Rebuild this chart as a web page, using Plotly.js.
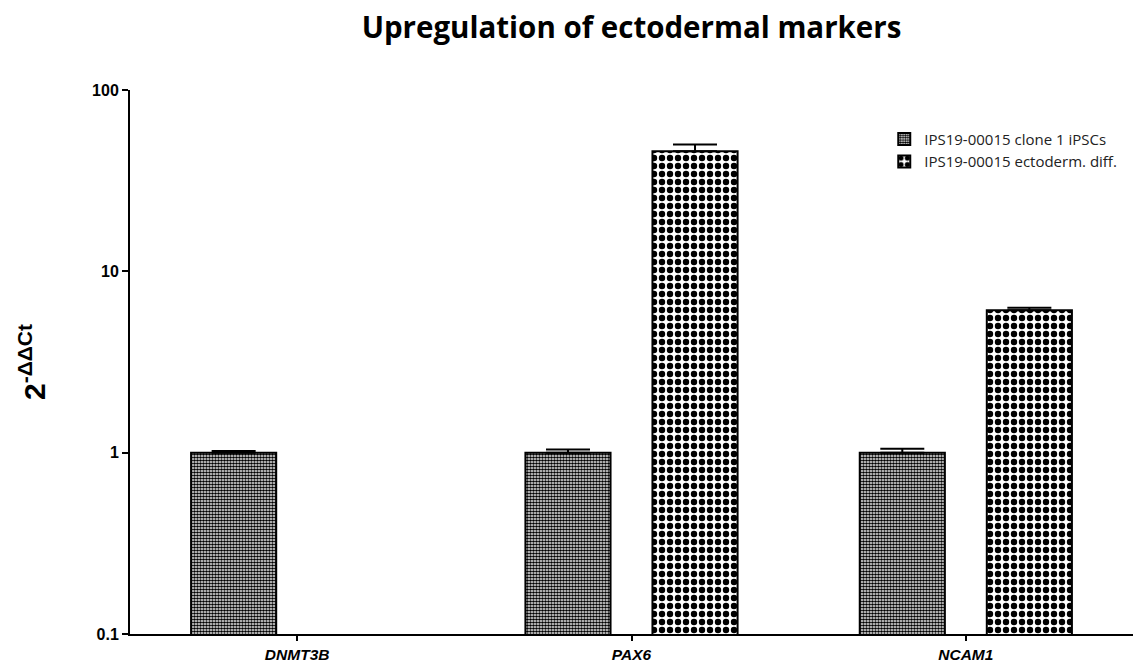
<!DOCTYPE html>
<html>
<head>
<meta charset="utf-8">
<script src="https://cdn.plot.ly/plotly-3.0.1.min.js"></script>
<style>html,body{margin:0;padding:0;background:#fff;}#chart{width:1143px;height:662px;}</style>
</head>
<body>
<div id="chart"></div>
<script>
const categories = ["DNMT3B", "PAX6", "NCAM1"];
const seriesNames = ["IPS19-00015 clone 1 iPSCs", "IPS19-00015 ectoderm. diff."];
const cloneValues = [1.0, 1.0, 1.0];
const cloneErrors = [0.02, 0.04, 0.05];
const ectoValues = [null, 46, 6.1];
const ectoErrors = [0, 4, 0.2];
const yTickVals = [0.1, 1, 10, 100];
const yTickText = ["0.1", "1", "10", "100"];

const catLabels = categories.map(c => "<b><i>" + c + "</i></b>");

const traces = [
  {
    type: "bar", name: seriesNames[0], x: catLabels, y: cloneValues,
    marker: {color: "#ffffff", line: {color: "#000", width: 2},
      pattern: {shape: ".", fgcolor: "#000", bgcolor: "#fff", size: 3, solidity: 0.65}},
    error_y: {type: "data", symmetric: false, array: cloneErrors, arrayminus: [0,0,0],
      color: "#000", thickness: 2, width: 22}
  },
  {
    type: "bar", name: seriesNames[1], x: catLabels, y: ectoValues,
    marker: {color: "#ffffff", line: {color: "#000", width: 2},
      pattern: {shape: ".", fgcolor: "#000", bgcolor: "#fff", size: 8, solidity: 0.5}},
    error_y: {type: "data", symmetric: false, array: ectoErrors, arrayminus: [0,0,0],
      color: "#000", thickness: 2, width: 22}
  }
];

const layout = {
  width: 1143, height: 662,
  margin: {l: 130, r: 10, t: 90, b: 28},
  paper_bgcolor: "#fff", plot_bgcolor: "#fff",
  title: {text: "<b>Upregulation of ectodermal markers</b>", x: 0.5, xref: "paper", y: 0.958, yanchor: "middle",
    font: {family: "'Open Sans', sans-serif", size: 29.5, color: "#000"}},
  barmode: "group", bargap: 0.24, bargroupgap: 0.33,
  showlegend: true,
  legend: {x: 0.752, y: 0.94, xanchor: "left", yanchor: "top", bgcolor: "rgba(0,0,0,0)",
    font: {family: "'Open Sans', sans-serif", size: 15, color: "#222"}, tracegroupgap: 0, itemwidth: 30},
  xaxis: {
    type: "category", range: [-0.5, 2.5], showline: true, linecolor: "#000", linewidth: 2,
    ticks: "outside", ticklen: 5, tickwidth: 2, tickcolor: "#000", showgrid: false, zeroline: false,
    tickfont: {family: "Arial, 'Liberation Sans', sans-serif", size: 15.5, color: "#000"}
  },
  yaxis: {
    type: "log", range: [-1, 2], showline: true, linecolor: "#000", linewidth: 2,
    ticks: "outside", ticklen: 6, tickwidth: 2, tickcolor: "#000", showgrid: false, zeroline: false,
    tickmode: "array", tickvals: yTickVals, ticktext: yTickText.map(t => "<b>" + t + "</b>"),
    tickfont: {family: "Arial, 'Liberation Sans', sans-serif", size: 16, color: "#000"},
    title: {text: "<b>2<sup>-ΔΔCt</sup></b>", standoff: 38,
      font: {family: "Arial, 'Liberation Sans', sans-serif", size: 30, color: "#000"}}
  }
};

Plotly.newPlot("chart", traces, layout, {displayModeBar: false, staticPlot: true});
</script>
</body>
</html>
